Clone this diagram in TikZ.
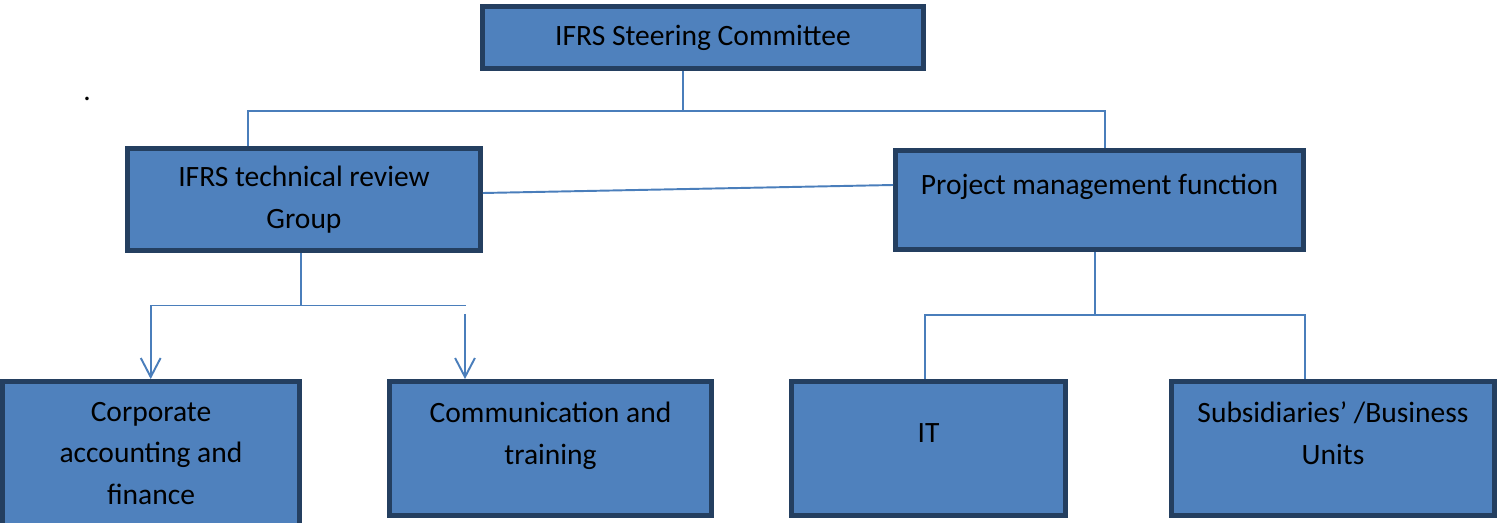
\documentclass[tikz,border=0pt]{standalone}
\usepackage{fontspec}
\setmainfont{Carlito}
\usetikzlibrary{arrows.meta}
\definecolor{boxfill}{HTML}{4F81BD}
\definecolor{boxline}{HTML}{243F60}
\definecolor{linkblue}{HTML}{4A7EBB}
\begin{document}
\begin{tikzpicture}
          [x=0.02cm,y=-0.02cm,
           font=\fontsize{16.8}{23.6}\selectfont,
           box/.style={draw=boxline, fill=boxfill, line width=2.8pt, inner sep=0pt, align=center},
           link/.style={draw=linkblue, line width=1.1pt},
           arrowlink/.style={link, -{Straight Barb[length=10.8pt, width=11.3pt, line width=1.1pt]}}]
        \useasboundingbox (0,0) rectangle (1497,523);
        \clip (0,0) rectangle (1497,523);

        \node[box, minimum width=8.82cm, minimum height=1.24cm] (steer) at (703,37.5) {IFRS Steering Committee};
        \node[inner sep=0pt] (dot) at (87,99) {.};
        \node[box, minimum width=7.06cm, minimum height=2.04cm] (tech) at (304,199.5) {IFRS technical review\\Group};
        \node[box, minimum width=8.16cm, minimum height=1.98cm, text depth=17.5pt] (pm) at (1099.5,200) {Project management function};
        \node[box, minimum width=5.94cm, minimum height=2.88cm] (corp) at (151,453.5) {Corporate\\accounting and\\finance};
        \node[box, minimum width=6.44cm, minimum height=2.68cm, text depth=17.5pt] (comm) at (550.5,448.5) {Communication and\\training};
        \node[box, minimum width=5.48cm, minimum height=2.68cm, text depth=17.5pt] (it) at (928.5,448.5) {IT};
        \node[box, minimum width=6.46cm, minimum height=2.68cm, text depth=17.5pt] (subs) at (1333,448.5) {Subsidiaries’ /Business\\Units};

        \coordinate (j1) at (683,111);
        \coordinate (l1) at (248,111);
        \coordinate (r1) at (1105,111);
        \coordinate (j2) at (301,305.5);
        \coordinate (l2) at (150.7,305.5);
        \coordinate (r2) at (465.7,305.5);
        \coordinate (r2b) at (465,314);
        \coordinate (j3) at (1095,315);
        \coordinate (l3) at (925,315);
        \coordinate (r3) at (1305,315);

        \draw[link] (steer.south -| j1) -- (j1);
        \draw[link] (tech.north -| l1) -- (l1) -- (r1) -- (pm.north -| r1);
        \draw[link] ([yshift=0.13cm]tech.east) -- ([yshift=0.3cm]pm.west);
        \draw[link] (tech.south -| j2) -- (j2);
        \draw[link] (l2) -- (r2);
        \draw[arrowlink] (l2) -- (corp.north -| l2);
        \draw[arrowlink] (r2b) -- (comm.north -| r2b);
        \draw[link] (pm.south -| j3) -- (j3);
        \draw[link] (it.north -| l3) -- (l3) -- (r3) -- (subs.north -| r3);
      \end{tikzpicture}
\end{document}
